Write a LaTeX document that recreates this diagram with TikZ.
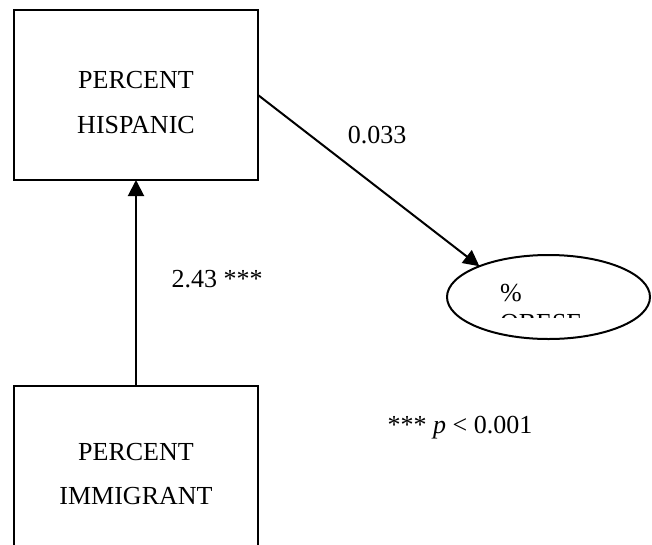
\documentclass[tikz,border=0pt]{standalone}
\usepackage{fontspec}
\setmainfont{Liberation Serif}
\usetikzlibrary{arrows.meta,shapes.geometric}
\begin{document}
\begin{tikzpicture}[x=1pt,y=-1pt,
  every node/.style={inner sep=0pt, outer sep=0pt},
  boxnode/.style={draw=black, line width=2pt, rectangle},
  txt/.style={font=\fontsize{26}{30}\selectfont, anchor=base},
  conn/.style={draw=black, line width=2pt, -{Triangle[length=16pt,width=16pt]}},
  ovalnode/.style={draw=black, line width=2pt, ellipse, minimum width=203pt, minimum height=84pt}
]
\useasboundingbox (0,0) rectangle (652,544);
\clip (0,0) rectangle (652,544);
% boxes
\node[boxnode, minimum width=244pt, minimum height=170pt] (hisp) at (136,95) {};
\node[boxnode, minimum width=244pt, minimum height=240pt] (immi) at (136,506) {};
\node[txt] (h1) at (136,88) {PERCENT};
\node[txt] (h2) at (136,133) {HISPANIC};
\node[txt] (i1) at (136,460) {PERCENT};
\node[txt] (i2) at (136,504) {IMMIGRANT};
% ellipse
\node[ovalnode] (obese) at (548.5,297) {};
\begin{scope}
  \clip (440,260) rectangle (652,317);
  \node[txt, anchor=base west] (o1) at (500,301) {\%};
  \node[txt, anchor=base west] (o2) at (500,331) {OBESE};
\end{scope}
% connectors
\draw[conn] (immi.north) -- (hisp.south);
\draw[conn] (hisp.east) -- (obese.156);
% labels
\node[txt] (l1) at (377,143) {0.033};
\node[txt] (l2) at (217,287) {2.43 ***};
\node[txt] (l3) at (460,433) {*** \textit{p} < 0.001};
\end{tikzpicture}
\end{document}
